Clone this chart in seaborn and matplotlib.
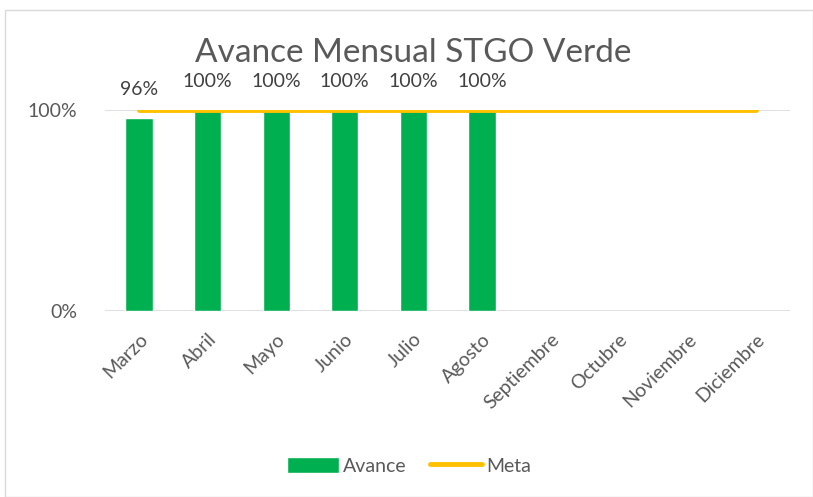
import matplotlib
matplotlib.use("Agg")
import matplotlib.pyplot as plt
import seaborn as sns
import pandas as pd
from matplotlib.patches import Rectangle
from matplotlib.lines import Line2D

meses = ["Marzo", "Abril", "Mayo", "Junio", "Julio", "Agosto",
         "Septiembre", "Octubre", "Noviembre", "Diciembre"]
avance = [0.96, 1.0, 1.0, 1.0, 1.0, 1.0, None, None, None, None]
meta = [1.0] * 10

sns.set_theme(style="white")
plt.rcParams['font.family'] = ['Lato', 'DejaVu Sans']

verde = "#00B050"
amarillo = "#FFC000"
gris = "#595959"

df = pd.DataFrame({"mes": meses, "avance": avance, "meta": meta})

fig = plt.figure(figsize=(8.13, 4.97), dpi=100)
fig.patches.append(Rectangle((0.006, 0.0), 0.994, 0.98, transform=fig.transFigure,
                             fill=False, edgecolor="#D9D9D9", linewidth=1))
ax = fig.add_axes([0.129, 0.374, 0.843, 0.405])

sns.barplot(data=df, x="mes", y="avance", color=verde, width=0.4,
            saturation=1, ax=ax, zorder=2)
ax.plot(range(len(meses)), df["meta"], color=amarillo, linewidth=3.5,
        solid_capstyle="round", zorder=3)

for i, v in enumerate(avance):
    if v is not None:
        ax.text(i, v + 0.1, f"{v:.0%}", ha="center", va="bottom",
                fontsize=14, color="#404040")

ax.set_ylim(0, 1)
ax.set_xlim(-0.5, len(meses) - 0.5)
ax.set_yticks([0, 1])
ax.set_yticklabels(["0%", "100%"], fontsize=14, color=gris)
ax.set_xticks(range(len(meses)))
ax.set_xticklabels(meses, rotation=45, ha="right", rotation_mode="anchor",
                   fontsize=14, color=gris)
ax.tick_params(axis="x", length=0, pad=14)
ax.tick_params(axis="y", length=0, pad=20)
ax.yaxis.grid(True, color="#D9D9D9", linewidth=1.2)
ax.set_axisbelow(True)
for s in ax.spines.values():
    s.set_visible(False)
ax.set_xlabel("")
ax.set_ylabel("")

fig.text(0.508, 0.893, "Avance Mensual STGO Verde", ha="center", va="center",
         fontsize=24, color=gris)

handles = [Rectangle((0, 0), 1, 1, facecolor=verde),
           Line2D([0], [0], color=amarillo, linewidth=3.5, solid_capstyle="round")]
fig.legend(handles, ["Avance", "Meta"], loc="center", bbox_to_anchor=(0.503, 0.063),
           ncol=2, frameon=False, fontsize=14, labelcolor=gris,
           handlelength=2.7, handleheight=0.9, columnspacing=1.2, handletextpad=0.2)

fig.savefig("out.png", dpi=100)
